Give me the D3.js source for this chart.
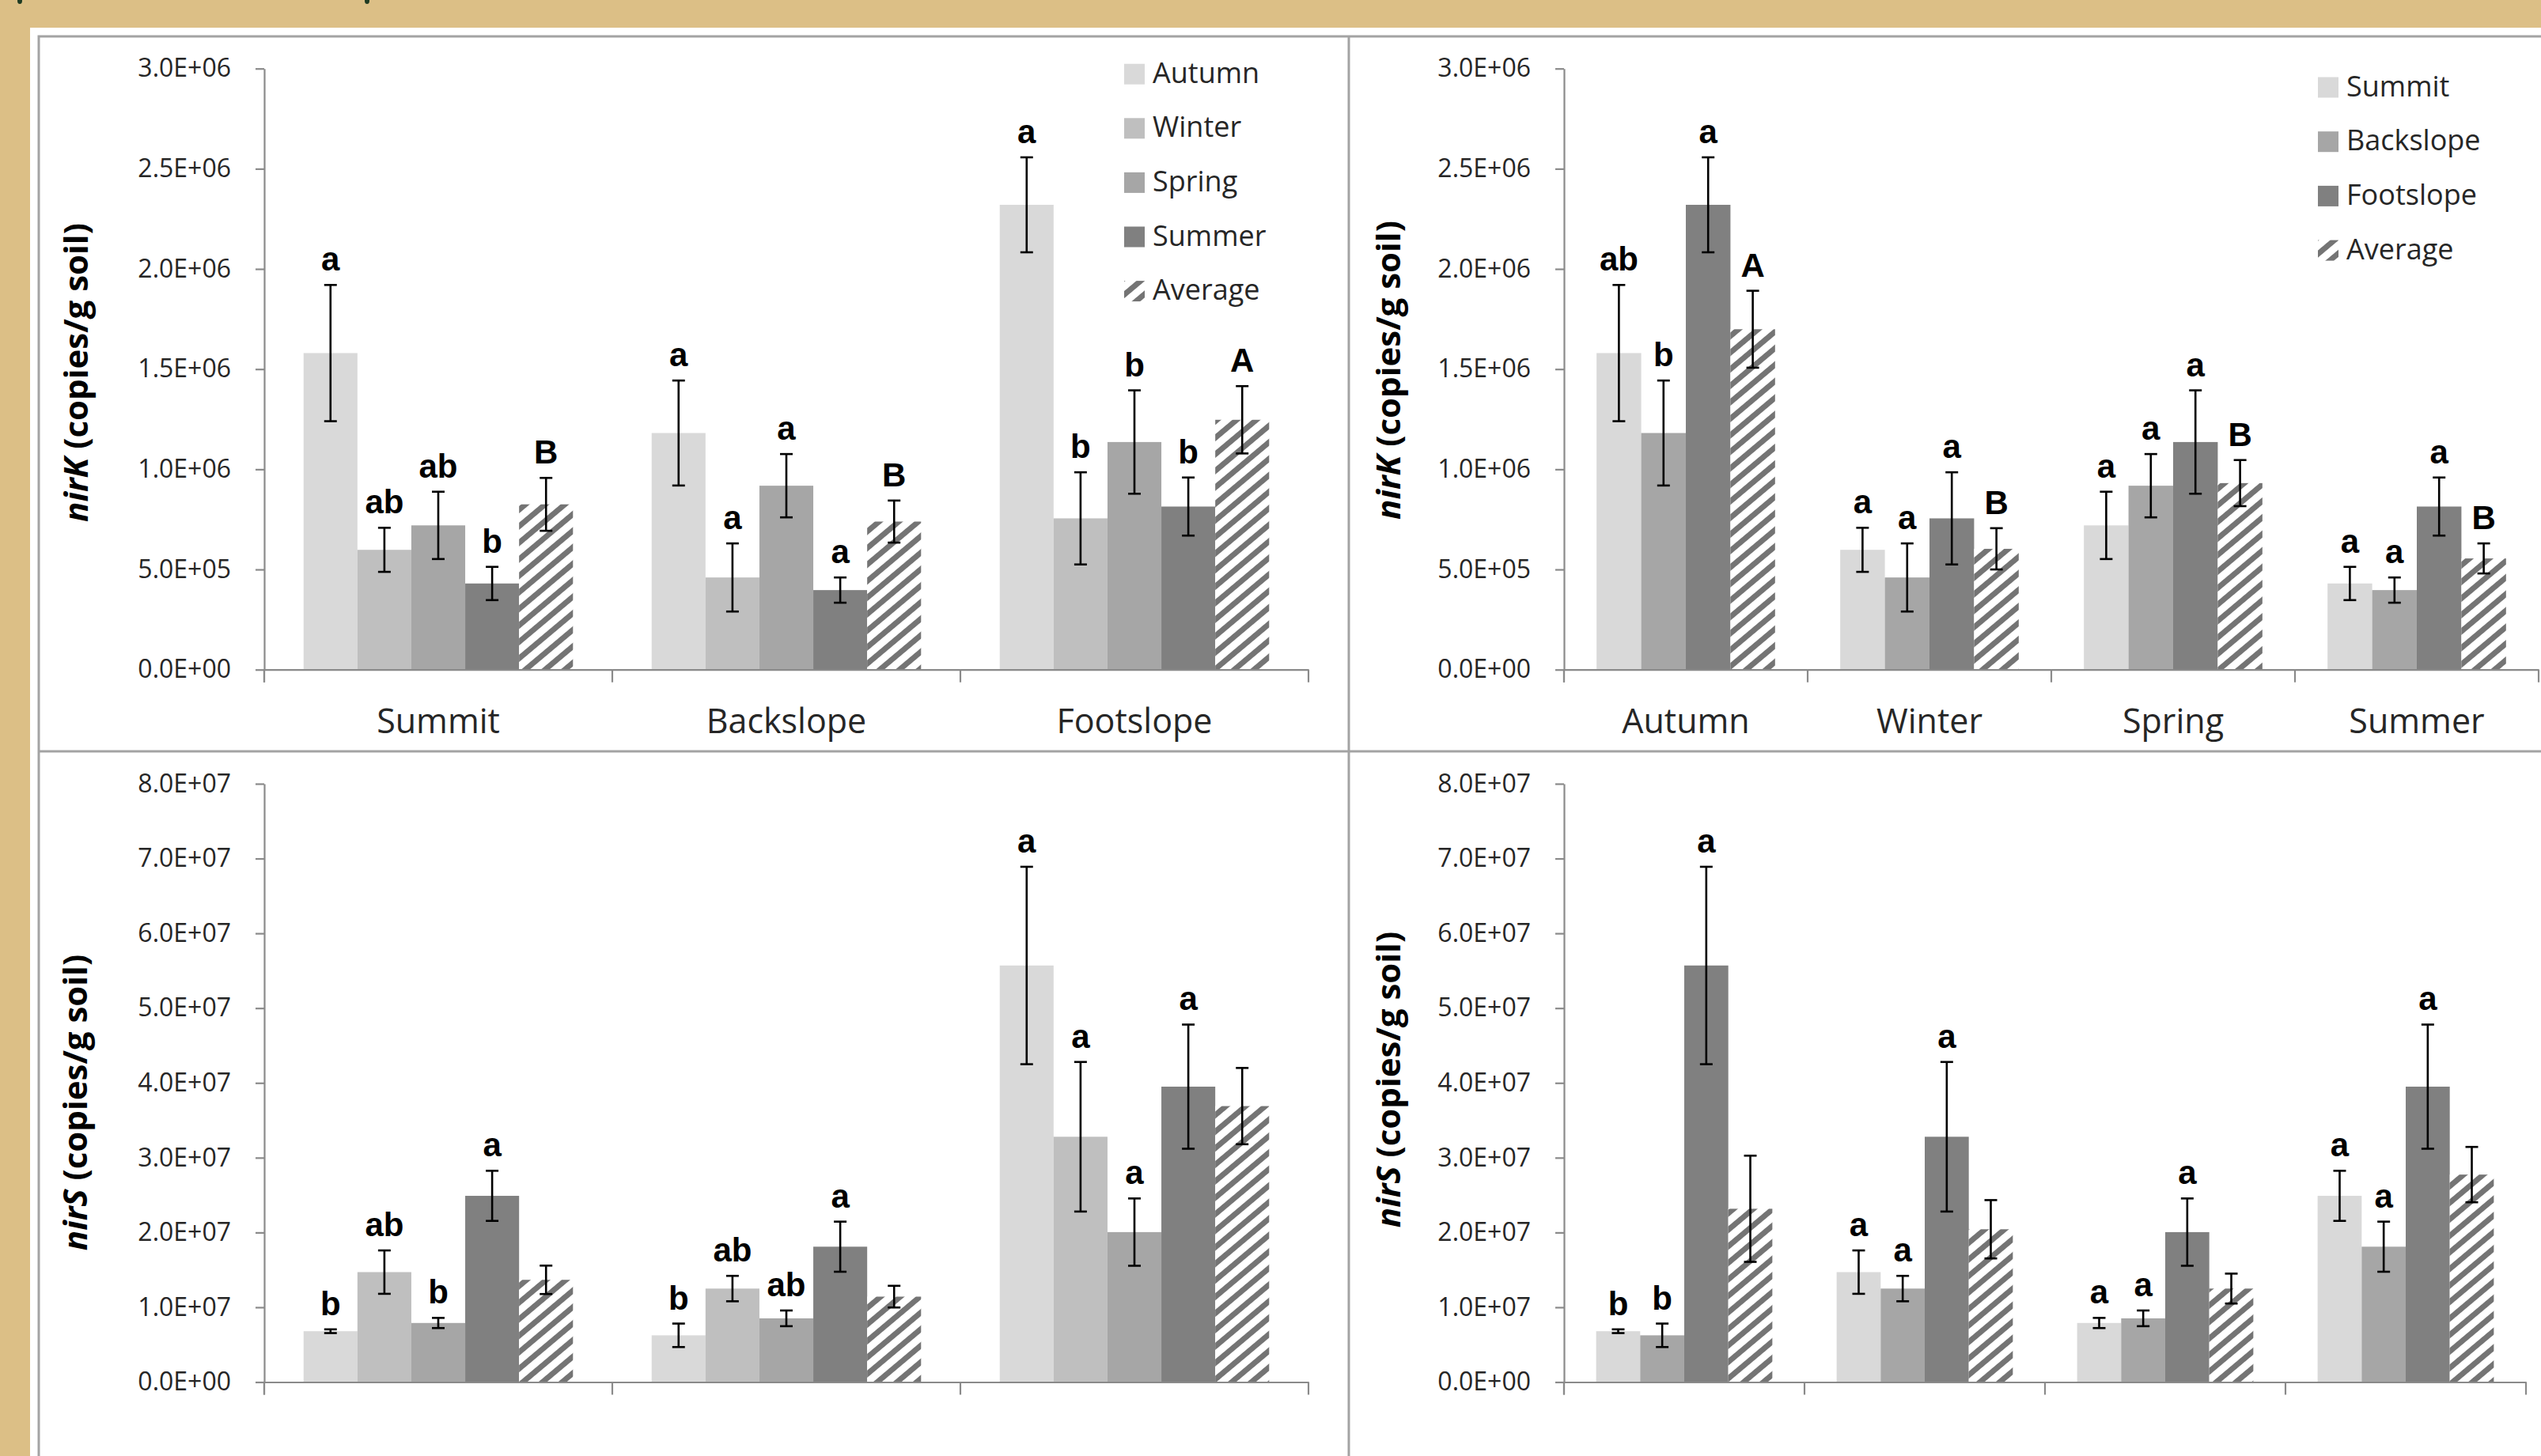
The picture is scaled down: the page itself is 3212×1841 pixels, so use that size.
<!DOCTYPE html>
<html>
<head>
<meta charset="utf-8">
<script src="https://cdn.jsdelivr.net/npm/d3@7"></script>
<style>
  body { margin: 0; background: #dcbf86; }
  svg { display: block; }
</style>
</head>
<body>
<svg id="chart"></svg>
<script>
// ---- data ----
let slopes = ['Summit', 'Backslope', 'Footslope'];
let seasons = ['Autumn', 'Winter', 'Spring', 'Summer'];

let nirKTicks = [0, 500000, 1000000, 1500000, 2000000, 2500000, 3000000];
let nirSTicks = [0, 10000000, 20000000, 30000000, 40000000, 50000000, 60000000, 70000000, 80000000];

// rows = slopes, columns = seasons
let nirK = [
  [1580000, 598000, 720000, 430000],
  [1181000, 460000, 918000, 397000],
  [2320000, 755000, 1136000, 814000]
];
let nirKErr = [
  [340000, 110000, 168000, 83000],
  [262000, 170000, 158000, 63000],
  [237000, 230000, 258000, 145000]
];
let nirKSlopeAvg = [825000, 739000, 1247000];
let nirKSlopeAvgErr = [132000, 105000, 168000];
let nirKSeasonAvg = [1699000, 603000, 931000, 555000];
let nirKSeasonAvgErr = [192000, 103000, 115000, 75000];

let nirS = [
  [6800000, 14700000, 7900000, 24900000],
  [6250000, 12500000, 8520000, 18100000],
  [55700000, 32800000, 20050000, 39500000]
];
let nirSErr = [
  [250000, 2900000, 680000, 3350000],
  [1570000, 1700000, 1050000, 3350000],
  [13200000, 10000000, 4500000, 8300000]
];
let nirSSlopeAvg = [13670000, 11420000, 36900000];
let nirSSlopeAvgErr = [1900000, 1450000, 5100000];
let nirSSeasonAvg = [23170000, 20430000, 12500000, 27740000];
let nirSSeasonAvgErr = [7100000, 3900000, 2000000, 3700000];

// significance letters
let kSlopeLetters = [['a', 'ab', 'ab', 'b', 'B'], ['a', 'a', 'a', 'a', 'B'], ['a', 'b', 'b', 'b', 'A']];
let kSeasonLetters = [['ab', 'b', 'a', 'A'], ['a', 'a', 'a', 'B'], ['a', 'a', 'a', 'B'], ['a', 'a', 'a', 'B']];
let sSlopeLetters = [['b', 'ab', 'b', 'a', ''], ['b', 'ab', 'ab', 'a', ''], ['a', 'a', 'a', 'a', '']];
let sSeasonLetters = [['b', 'b', 'a', ''], ['a', 'a', 'a', ''], ['a', 'a', 'a', ''], ['a', 'a', 'a', '']];

let seasonColors = ['#d9d9d9', '#bfbfbf', '#a6a6a6', '#808080'];
let slopeColors = ['#d9d9d9', '#a6a6a6', '#808080'];

// ---- page ----
let w = 3212;
let h = 1841;
let svg = d3.select('#chart').attr('width', w).attr('height', h);

let defs = svg.append('defs');
let pat = defs.append('pattern')
  .attr('id', 'hatch')
  .attr('patternUnits', 'userSpaceOnUse')
  .attr('width', 16)
  .attr('height', 16)
  .attr('patternTransform', 'rotate(50)');
pat.append('rect').attr('width', 16).attr('height', 16).attr('fill', '#fff');
pat.append('rect').attr('width', 7).attr('height', 16).attr('fill', '#747474');

svg.append('rect').attr('width', w).attr('height', h).attr('fill', '#dcbf86');
svg.append('rect').attr('x', 38).attr('y', 35).attr('width', w - 38).attr('height', h - 35).attr('fill', '#fff');
// bits of cut-off text above the figure
svg.append('ellipse').attr('cx', 25).attr('cy', 1).attr('rx', 3).attr('ry', 4).attr('fill', '#1f3b22');
svg.append('ellipse').attr('cx', 464).attr('cy', 1).attr('rx', 3).attr('ry', 4).attr('fill', '#1f3b22');

// panel frame
let frame = svg.append('g').attr('stroke', '#a3a3a3').attr('stroke-width', 3).attr('fill', 'none');
frame.append('path').attr('d', 'M49,' + h + ' V46 H' + w);
frame.append('line').attr('x1', 1705).attr('x2', 1705).attr('y1', 46).attr('y2', h);
frame.append('line').attr('x1', 49).attr('x2', w).attr('y1', 950).attr('y2', 950);

let sci = d => d.toExponential(1).toUpperCase().replace(/E([+-])(\d)$/, (m, s, n) => 'E' + s + '0' + n);

let drawPanel = (p) => {
  let g = svg.append('g');

  let x0 = d3.scaleBand().domain(p.groups).range([p.left, p.right]).padding(0);
  let x1 = d3.scaleBand().domain(p.keys).range([0, x0.bandwidth()]).paddingInner(0).paddingOuter(0.73);
  let y = d3.scaleLinear().domain([0, p.max]).range([p.bottom, p.top]);

  let rows = [];
  p.groups.forEach((grp, i) => {
    p.keys.forEach((k, j) => {
      rows.push({ grp: grp, k: k, j: j, v: p.val(i, j), e: p.err(i, j), t: p.letters[i][j] });
    });
  });

  // bars
  g.selectAll('rect.bar')
   .data(rows)
   .enter()
   .append('rect')
   .attr('class', 'bar')
   .attr('x', d => x0(d.grp) + x1(d.k))
   .attr('width', x1.bandwidth())
   .attr('y', d => y(d.v))
   .attr('height', d => y(0) - y(d.v))
   .attr('fill', d => d.k == 'Average' ? 'url(#hatch)' : p.colors[d.j]);

  // y axis
  let yAxis = d3.axisLeft(y).tickValues(p.ticks).tickFormat(sci).tickSize(11).tickSizeOuter(0).tickPadding(31);
  let ya = g.append('g').attr('transform', 'translate(' + p.left + ',0)').call(yAxis);
  ya.selectAll('path, line').attr('stroke', '#8a8a8a').attr('stroke-width', 2.2);
  ya.selectAll('text')
    .attr('font-family', '"Open Sans", sans-serif')
    .attr('font-size', 32)
    .attr('fill', '#262626');
  g.append('line')
   .attr('x1', p.left).attr('x2', p.left)
   .attr('y1', p.bottom).attr('y2', p.bottom + 16)
   .attr('stroke', '#8a8a8a').attr('stroke-width', 2.2);

  // x axis
  let xAxis = d3.axisBottom(x0).tickSize(0).tickSizeOuter(0).tickPadding(50);
  let xa = g.append('g').attr('transform', 'translate(0,' + p.bottom + ')').call(xAxis);
  xa.select('path').attr('stroke', '#8a8a8a').attr('stroke-width', 2.2);
  xa.selectAll('text')
    .attr('font-family', '"Open Sans", sans-serif')
    .attr('font-size', 43)
    .attr('fill', '#262626')
    .style('display', p.showX ? null : 'none');
  let bounds = p.groups.map(c => x0(c)).concat([p.right]);
  g.selectAll('line.sep')
   .data(bounds)
   .enter()
   .append('line')
   .attr('class', 'sep')
   .attr('x1', d => d).attr('x2', d => d)
   .attr('y1', p.bottom).attr('y2', p.bottom + 16)
   .attr('stroke', '#8a8a8a').attr('stroke-width', 2.2);

  // error bars
  let eb = g.selectAll('g.err')
    .data(rows)
    .enter()
    .append('g')
    .attr('class', 'err')
    .attr('stroke', '#000')
    .attr('stroke-width', 2.6);
  let cx = d => x0(d.grp) + x1(d.k) + x1.bandwidth() / 2;
  eb.append('line').attr('x1', cx).attr('x2', cx).attr('y1', d => y(d.v + d.e)).attr('y2', d => y(d.v - d.e));
  eb.append('line').attr('x1', d => cx(d) - 8).attr('x2', d => cx(d) + 8).attr('y1', d => y(d.v + d.e)).attr('y2', d => y(d.v + d.e));
  eb.append('line').attr('x1', d => cx(d) - 8).attr('x2', d => cx(d) + 8).attr('y1', d => y(d.v - d.e)).attr('y2', d => y(d.v - d.e));

  // letters
  g.selectAll('text.sig')
   .data(rows.filter(d => d.t))
   .enter()
   .append('text')
   .attr('class', 'sig')
   .attr('x', cx)
   .attr('y', d => y(d.v + d.e) - 18)
   .attr('text-anchor', 'middle')
   .attr('font-family', '"Liberation Sans", Arial, sans-serif')
   .attr('font-weight', 'bold')
   .attr('font-size', 42)
   .attr('fill', '#000')
   .text(d => d.t);

  // y title
  let tt = g.append('text')
    .attr('transform', 'translate(' + p.titleX + ',' + p.titleY + ') rotate(-90)')
    .attr('text-anchor', 'middle')
    .attr('font-family', '"Open Sans", sans-serif')
    .attr('font-weight', 'bold')
    .attr('font-size', 42)
    .attr('fill', '#000');
  tt.append('tspan').attr('font-style', 'italic').text(p.gene);
  tt.append('tspan').text(' (copies/g soil)');

  // legend
  if (p.legend) {
    let lg = g.append('g');
    let items = lg.selectAll('g')
      .data(p.keys)
      .enter()
      .append('g')
      .attr('transform', (d, i) => 'translate(' + p.legend.x + ',' + (p.legend.y + i * p.legend.step) + ')');
    items.append('rect')
      .attr('x', 0).attr('y', -13)
      .attr('width', 26).attr('height', 26)
      .attr('fill', (d, i) => d == 'Average' ? 'url(#hatch)' : p.colors[i]);
    items.append('text')
      .attr('x', 36).attr('y', 11)
      .attr('font-family', '"Open Sans", sans-serif')
      .attr('font-size', 36)
      .attr('fill', '#262626')
      .text(d => d);
  }
};

// top-left: nirK by slope
drawPanel({
  groups: slopes, keys: seasons.concat(['Average']), colors: seasonColors,
  val: (i, j) => j < 4 ? nirK[i][j] : nirKSlopeAvg[i],
  err: (i, j) => j < 4 ? nirKErr[i][j] : nirKSlopeAvgErr[i],
  letters: kSlopeLetters, max: 3000000, ticks: nirKTicks,
  left: 334, right: 1654, top: 86.7, bottom: 846.7, showX: true,
  gene: 'nirK', titleX: 111, titleY: 471,
  legend: { x: 1421, y: 93.7, step: 68.6 }
});

// top-right: nirK by season
drawPanel({
  groups: seasons, keys: slopes.concat(['Average']), colors: slopeColors,
  val: (i, j) => j < 3 ? nirK[j][i] : nirKSeasonAvg[i],
  err: (i, j) => j < 3 ? nirKErr[j][i] : nirKSeasonAvgErr[i],
  letters: kSeasonLetters, max: 3000000, ticks: nirKTicks,
  left: 1977, right: 3209, top: 86.7, bottom: 846.7, showX: true,
  gene: 'nirK', titleX: 1770, titleY: 468,
  legend: { x: 2930, y: 110.5, step: 68.7 }
});

// bottom-left: nirS by slope
drawPanel({
  groups: slopes, keys: seasons.concat(['Average']), colors: seasonColors,
  val: (i, j) => j < 4 ? nirS[i][j] : nirSSlopeAvg[i],
  err: (i, j) => j < 4 ? nirSErr[i][j] : nirSSlopeAvgErr[i],
  letters: sSlopeLetters, max: 80000000, ticks: nirSTicks,
  left: 334, right: 1654, top: 991, bottom: 1747.5, showX: false,
  gene: 'nirS', titleX: 110, titleY: 1394
});

// bottom-right: nirS by season
drawPanel({
  groups: seasons, keys: slopes.concat(['Average']), colors: slopeColors,
  val: (i, j) => j < 3 ? nirS[j][i] : nirSSeasonAvg[i],
  err: (i, j) => j < 3 ? nirSErr[j][i] : nirSSeasonAvgErr[i],
  letters: sSeasonLetters, max: 80000000, ticks: nirSTicks,
  left: 1977, right: 3193, top: 991, bottom: 1747.5, showX: false,
  gene: 'nirS', titleX: 1770, titleY: 1365
});
</script>
</body>
</html>
